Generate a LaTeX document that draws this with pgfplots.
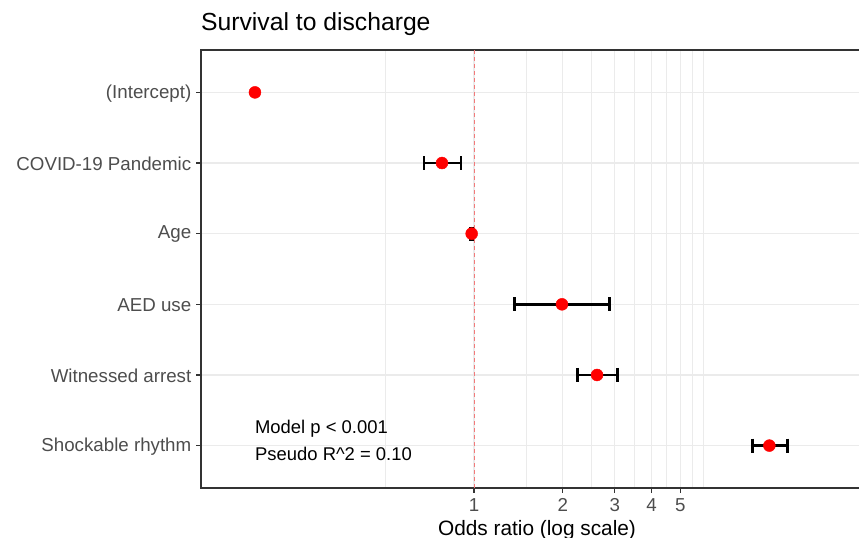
\documentclass[border=0pt]{standalone}
\usepackage{pgfplots}
\pgfplotsset{compat=1.18}
\usepackage{fontspec}
\setmainfont{Liberation Sans}
\definecolor{gridgray}{HTML}{EBEBEB}
\definecolor{axgray}{HTML}{333333}
\definecolor{txtgray}{HTML}{4D4D4D}
\definecolor{vred}{HTML}{F27A7A}
\begin{document}
\begin{tikzpicture}
\useasboundingbox (-201bp,-50bp) rectangle (658bp,488bp);
\begin{axis}[
  at={(0,0)}, anchor=south west,
  scale only axis, width=672bp, height=438bp,
  xmode=log, xmin=0.1188, xmax=22.5,
  ymin=0.4, ymax=6.6,
  /pgf/number format/assume math mode=true,
  xtick={1,2,3,4,5}, xticklabels={1,2,3,4,5},
  minor xtick={0.5,1.5,2.5,3.5,4.5,5.5,6},
  ytick={1,2,3,4,5,6},
  yticklabels={Shockable rhythm,Witnessed arrest,AED use,Age,COVID-19 Pandemic,(Intercept)},
  grid=both,
  major grid style={gridgray, line width=1.3bp},
  minor grid style={gridgray, line width=0.9bp},
  tick align=outside, tick pos=left,
  major tick length=4.5bp, minor tick length=0pt,
  tick style={axgray, line width=1.1bp},
  axis line style={axgray, line width=1.1bp},
  xticklabel style={font=\fontsize{18.8}{22}\selectfont, text=txtgray, inner sep=0pt, yshift=-5.5bp},
  yticklabel style={font=\fontsize{18.8}{22}\selectfont, text=txtgray, inner sep=0pt, xshift=-5bp, yshift=-0.8bp},
  xlabel={Odds ratio (log scale)},
  xlabel style={font=\fontsize{20.9}{24}\selectfont, at={(axis description cs:0.5,0)}, anchor=base, yshift=-47bp, inner sep=0pt},
  title={Survival to discharge},
  title style={font=\fontsize{24.8}{28}\selectfont, at={(axis description cs:0,1)}, anchor=base west, yshift=14bp, inner sep=0pt},
  clip=false,
]
% reference line at OR = 1
\addplot[vred, line width=1bp, dash pattern=on 4bp off 3bp] coordinates {(1,0.4) (1,6.6)};
% confidence intervals
\addplot[black, line width=2.8bp, mark=|, mark size=7bp, mark options={solid, line width=2.8bp}] coordinates {(0.677,5) (0.903,5)};
\addplot[black, line width=2.8bp, mark=|, mark size=7bp, mark options={solid, line width=2.8bp}] coordinates {(0.975,4) (0.990,4)};
\addplot[black, line width=2.8bp, mark=|, mark size=7bp, mark options={solid, line width=2.8bp}] coordinates {(1.369,3) (2.875,3)};
\addplot[black, line width=2.8bp, mark=|, mark size=7bp, mark options={solid, line width=2.8bp}] coordinates {(2.246,2) (3.070,2)};
\addplot[black, line width=2.8bp, mark=|, mark size=7bp, mark options={solid, line width=2.8bp}] coordinates {(8.80,1) (11.53,1)};
% estimates
\addplot[only marks, mark=*, mark size=6bp, mark options={draw=red, fill=red}] coordinates {
  (0.181,6) (0.779,5) (0.982,4) (1.987,3) (2.612,2) (10.02,1)
};
\node[anchor=base west, inner sep=0pt, font=\fontsize{18.5}{22}\selectfont] at (axis cs:0.181,1.170) {Model p < 0.001};
\node[anchor=base west, inner sep=0pt, font=\fontsize{18.5}{22}\selectfont] at (axis cs:0.181,0.788) {Pseudo R\textasciicircum 2 = 0.10};
\end{axis}
\end{tikzpicture}
\end{document}
